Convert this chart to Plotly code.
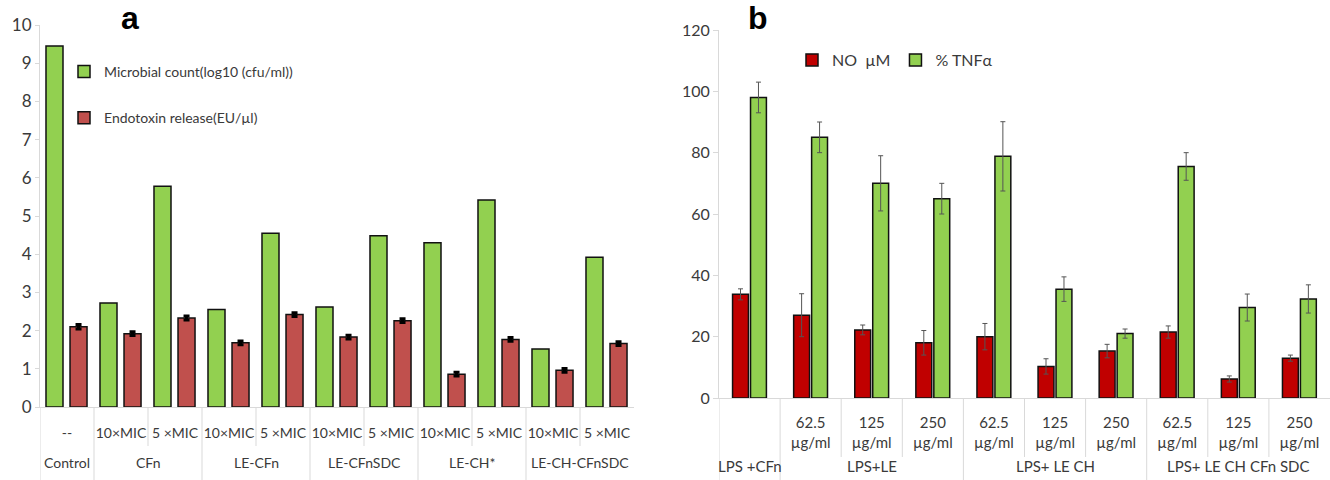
import plotly.graph_objects as go

# ---------------- Panel a data ----------------
groups_a = ["Control", "CFn", "CFn", "LE-CFn", "LE-CFn", "LE-CFnSDC", "LE-CFnSDC",
            "LE-CH*", "LE-CH*", "LE-CH-CFnSDC", "LE-CH-CFnSDC"]
subs_a = ["--", "10×MIC", "5 ×MIC", "10×MIC", "5 ×MIC", "10×MIC", "5 ×MIC",
          "10×MIC", "5 ×MIC", "10×MIC", "5 ×MIC"]
microbial = [9.45, 2.72, 5.78, 2.55, 4.55, 2.62, 4.48, 4.30, 5.42, 1.52, 3.92]
endotoxin = [2.10, 1.92, 2.33, 1.68, 2.42, 1.83, 2.26, 0.86, 1.77, 0.96, 1.66]
endotoxin_err = [0.06, 0.05, 0.05, 0.05, 0.05, 0.05, 0.05, 0.05, 0.05, 0.05, 0.05]
yticks_a = [0, 1, 2, 3, 4, 5, 6, 7, 8, 9, 10]

# ---------------- Panel b data ----------------
groups_b = ["LPS +CFn", "LPS+LE", "LPS+LE", "LPS+LE", "LPS+ LE CH", "LPS+ LE CH", "LPS+ LE CH",
            "LPS+ LE CH CFn SDC", "LPS+ LE CH CFn SDC", "LPS+ LE CH CFn SDC"]
subs_b = ["", "62.5<br>µg/ml", "125<br>µg/ml", "250<br>µg/ml", "62.5<br>µg/ml", "125<br>µg/ml",
          "250<br>µg/ml", "62.5<br>µg/ml", "125<br>µg/ml", "250<br>µg/ml"]
no_um = [33.8, 27.0, 22.2, 18.0, 20.0, 10.3, 15.3, 21.5, 6.2, 13.0]
no_err = [1.8, 7.0, 1.6, 4.0, 4.3, 2.5, 2.2, 2.0, 1.0, 1.0]
tnf = [98.0, 85.0, 70.0, 65.0, 78.8, 35.5, 21.0, 75.5, 29.5, 32.3]
tnf_err = [5.0, 5.0, 9.0, 5.0, 11.3, 4.0, 1.5, 4.5, 4.4, 4.6]
yticks_b = [0, 20, 40, 60, 80, 100, 120]

GREEN = "#92D050"
RED_A = "#C0504D"
RED_B = "#C00000"
TXT = "#3A3A3A"
AXC = "#D9D9D9"
FONT = "Lato"

cats_a = [f"{g}|{s}|{i}" for i, (g, s) in enumerate(zip(groups_a, subs_a))]
cats_b = [f"{g}|{s}|{i}" for i, (g, s) in enumerate(zip(groups_b, subs_b))]

fig = go.Figure()

fig.add_trace(go.Bar(
    x=cats_a, y=microbial, name="Microbial count(log10 (cfu/ml))",
    marker=dict(color=GREEN, line=dict(color="#111", width=1.5)),
    offset=-0.389, width=0.315, xaxis="x", yaxis="y", legend="legend",
    legendgroup="a1"))
fig.add_trace(go.Bar(
    x=cats_a, y=endotoxin, name="Endotoxin release(EU/µl)",
    marker=dict(color=RED_A, line=dict(color="#111", width=1.5)),
    error_y=dict(type="data", array=endotoxin_err, color="#000", thickness=3, width=3),
    offset=0.056, width=0.315, xaxis="x", yaxis="y", legend="legend",
    legendgroup="a2"))

fig.add_trace(go.Bar(
    x=cats_b, y=no_um, name="NO  µM",
    marker=dict(color=RED_B, line=dict(color="#111", width=1.5)),
    error_y=dict(type="data", array=no_err, color="#555", thickness=1, width=2.5),
    offset=-0.278, width=0.26, xaxis="x2", yaxis="y2", legend="legend2"))
fig.add_trace(go.Bar(
    x=cats_b, y=tnf, name="% TNFα",
    marker=dict(color=GREEN, line=dict(color="#111", width=1.5)),
    error_y=dict(type="data", array=tnf_err, color="#555", thickness=1, width=2.5),
    offset=0.016, width=0.26, xaxis="x2", yaxis="y2", legend="legend2"))

W, H = 1330, 480
def px(x):
    return x / W
def py(y):
    return (H - y) / H

shapes = []
annotations = []

def add_separators(groups, xref, ytop, yinner, ybottom):
    n = len(groups)
    shapes.append(dict(type="line", xref=xref, yref="paper", x0=-0.5, x1=-0.5,
                       y0=py(ytop), y1=py(ybottom), line=dict(color=AXC, width=1)))
    for i in range(1, n):
        full = groups[i] != groups[i - 1]
        shapes.append(dict(type="line", xref=xref, yref="paper", x0=i - 0.5, x1=i - 0.5,
                           y0=py(ytop), y1=py(ybottom if full else yinner),
                           line=dict(color=AXC, width=1)))

def add_group_labels(groups, xref, ylab, size):
    seen = []
    for g in groups:
        if g not in seen:
            seen.append(g)
    for g in seen:
        idx = [i for i, gg in enumerate(groups) if gg == g]
        annotations.append(dict(text=g, xref=xref, yref="paper", x=sum(idx) / len(idx),
                                y=py(ylab), yanchor="middle", xanchor="center",
                                showarrow=False, font=dict(family=FONT, size=size, color=TXT)))

add_separators(groups_a, "x", 407, 446, 480)
add_group_labels(groups_a, "x", 462, 14)
add_separators(groups_b, "x2", 398, 457, 480)
add_group_labels(groups_b, "x2", 466, 15)

annotations.append(dict(text="<b>a</b>", xref="paper", yref="paper", x=px(130), y=py(18),
                        xanchor="center", yanchor="middle", showarrow=False,
                        font=dict(family="Liberation Sans", size=32, color="#000")))
annotations.append(dict(text="<b>b</b>", xref="paper", yref="paper", x=px(758), y=py(18),
                        xanchor="center", yanchor="middle", showarrow=False,
                        font=dict(family="Liberation Sans", size=32, color="#000")))

fig.update_layout(
    width=W, height=H,
    margin=dict(l=0, r=0, t=0, b=0, pad=0),
    paper_bgcolor="white", plot_bgcolor="white",
    barmode="overlay",
    font=dict(family=FONT, color=TXT),
    xaxis=dict(domain=[px(40), px(634)], type="category", tickmode="array",
               tickvals=cats_a, ticktext=subs_a, showline=True, linecolor=AXC,
               range=[-0.5, len(cats_a) - 0.5], automargin=False,
               ticks="", showgrid=False, tickfont=dict(size=14, color=TXT),
               ticklabelstandoff=13, anchor="y", fixedrange=True),
    yaxis=dict(domain=[py(407), py(25)], range=[0, 10], tickmode="array", tickvals=yticks_a,
               showline=True, linecolor=AXC, ticks="outside", ticklen=4, tickcolor=AXC,
               showgrid=False, zeroline=False, tickfont=dict(size=17, color=TXT),
               anchor="x", automargin=False),
    xaxis2=dict(domain=[px(719), px(1330)], type="category", tickmode="array",
                tickvals=cats_b, ticktext=subs_b, showline=True, linecolor=AXC,
                range=[-0.5, len(cats_b) - 0.5], automargin=False,
                ticks="", showgrid=False, tickfont=dict(size=15, color=TXT),
                ticklabelstandoff=11, anchor="y2"),
    yaxis2=dict(domain=[py(398), py(30)], range=[0, 120], tickmode="array", tickvals=yticks_b,
                showline=True, linecolor=AXC, ticks="outside", ticklen=5, tickcolor=AXC,
                showgrid=False, zeroline=False, tickfont=dict(size=16, color=TXT),
                anchor="x2", automargin=False),
    legend=dict(x=px(64), y=py(56), xanchor="left", yanchor="top", orientation="v",
                tracegroupgap=25, font=dict(family=FONT, size=14, color=TXT),
                bgcolor="rgba(0,0,0,0)", traceorder="grouped"),
    legend2=dict(x=px(792), y=py(60), xanchor="left", yanchor="middle", orientation="h",
                 font=dict(family=FONT, size=16, color=TXT), bgcolor="rgba(0,0,0,0)"),
    shapes=shapes, annotations=annotations,
    showlegend=True,
)

fig.write_html("out.html",
               config={"displayModeBar": False},
               post_script="document.body.style.margin='0';document.body.style.padding='0';"
                           "document.body.style.overflow='hidden';")
